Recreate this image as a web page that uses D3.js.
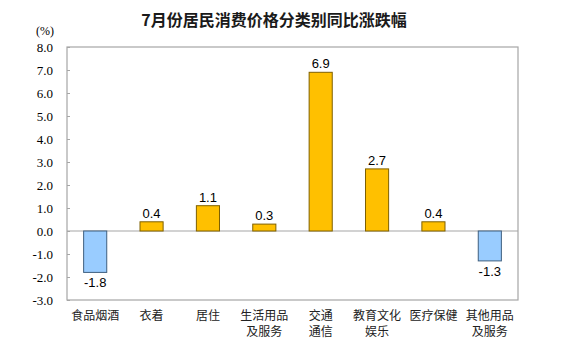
<!DOCTYPE html>
<html>
<head>
<meta charset="utf-8">
<script src="https://cdn.jsdelivr.net/npm/d3@7"></script>
<style>
  body { margin: 0; background: #fff; }
  svg { display: block; }
</style>
</head>
<body>
<svg id="chart" width="569" height="353"></svg>
<script>
// --- Données ---
const categories = ["食品烟酒", "衣着", "居住", "生活用品\n及服务", "交通\n通信", "教育文化\n娱乐", "医疗保健", "其他用品\n及服务"];
const values = [-1.8, 0.4, 1.1, 0.3, 6.9, 2.7, 0.4, -1.3];
const yTicks = [8, 7, 6, 5, 4, 3, 2, 1, 0, -1, -2, -3];

const svg = d3.select("#chart");
const margin = {top: 47, right: 51, bottom: 53, left: 67};
const width = 569 - margin.left - margin.right;
const height = 353 - margin.top - margin.bottom;

// format avec un tiret simple au lieu du signe moins unicode
const fmt = v => v.toFixed(1);

const x = d3.scaleBand().domain(categories).range([0, width]).paddingInner(0.59).paddingOuter(0.295);
const y = d3.scaleLinear().domain([-3, 8]).range([height, 0]);

// Titre
svg.append("text")
    .attr("x", 274).attr("y", 26)
    .attr("text-anchor", "middle")
    .style("font-family", "'Noto Sans CJK SC', sans-serif")
    .style("font-size", "16px")
    .style("font-weight", "bold")
    .style("fill", "#1a1a1a")
    .text("7月份居民消费价格分类别同比涨跌幅");

svg.append("text")
    .attr("x", 45).attr("y", 35)
    .attr("text-anchor", "middle")
    .style("font-family", "'Liberation Serif', serif")
    .style("font-size", "12px")
    .text("(%)");

const g = svg.append("g").attr("transform", `translate(${margin.left},${margin.top})`);

// Cadre
g.append("rect")
    .attr("x", 0).attr("y", 0)
    .attr("width", width).attr("height", height)
    .attr("fill", "none")
    .attr("stroke", "#a6a6a6")
    .attr("stroke-width", 1.2);

// Axe Y
const yAxis = g.append("g")
    .call(d3.axisLeft(y).tickValues(yTicks).tickFormat(fmt).tickSize(-3).tickPadding(14));
yAxis.select(".domain").remove();
yAxis.selectAll("line").attr("stroke", "#a6a6a6");
yAxis.selectAll("text")
    .style("font-family", "'Liberation Serif', serif")
    .style("font-size", "13px")
    .style("fill", "#000");

// Ligne zéro
g.append("line")
    .attr("x1", 0).attr("x2", width)
    .attr("y1", y(0)).attr("y2", y(0))
    .attr("stroke", "#a6a6a6")
    .attr("stroke-width", 1.2);

// Barres
const data = categories.map((c, i) => ({cat: c, v: values[i]}));
g.selectAll(".bar")
    .data(data)
    .join("rect")
    .attr("class", "bar")
    .attr("x", d => x(d.cat))
    .attr("width", x.bandwidth())
    .attr("y", d => y(Math.max(0, d.v)))
    .attr("height", d => Math.abs(y(d.v) - y(0)))
    .attr("fill", d => d.v >= 0 ? "#ffc000" : "#99ccff")
    .attr("stroke", d => d.v >= 0 ? "#7f6000" : "#3f5f7f")
    .attr("stroke-width", 1);

// Étiquettes de valeur
g.selectAll(".val")
    .data(data)
    .join("text")
    .attr("class", "val")
    .attr("x", d => x(d.cat) + x.bandwidth() / 2)
    .attr("y", d => d.v >= 0 ? y(d.v) - 4 : y(d.v) + 15)
    .attr("text-anchor", "middle")
    .style("font-family", "'Liberation Sans', Arial, sans-serif")
    .style("font-size", "13px")
    .text(d => fmt(d.v));

// Catégories
const labels = g.selectAll(".cat")
    .data(categories)
    .join("text")
    .attr("class", "cat")
    .attr("text-anchor", "middle")
    .attr("transform", d => `translate(${x(d) + x.bandwidth() / 2},${height + 20})`)
    .style("font-family", "'Noto Sans CJK SC', sans-serif")
    .style("font-size", "12px")
    .style("fill", "#222");
labels.selectAll("tspan")
    .data(d => d.split("\n"))
    .join("tspan")
    .attr("x", 0)
    .attr("dy", (d, i) => i === 0 ? 0 : 16)
    .text(d => d);
</script>
</body>
</html>
